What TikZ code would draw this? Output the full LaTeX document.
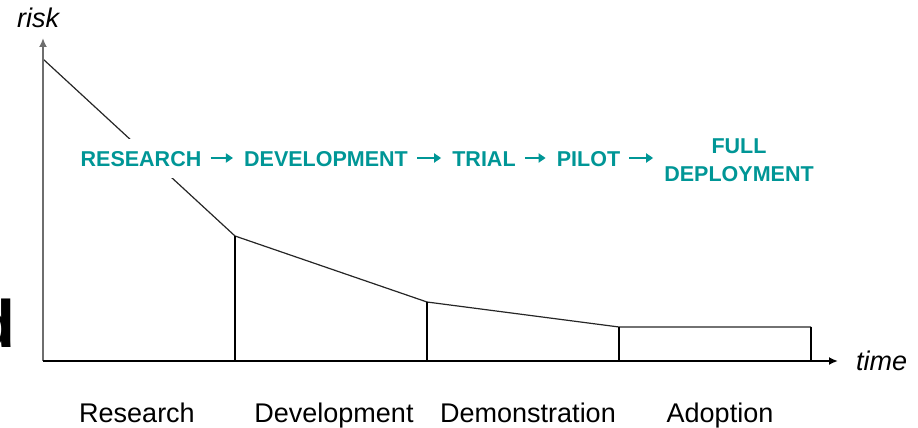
\documentclass[tikz,border=0pt]{standalone}
\usepackage{fontspec}
\setmainfont{Liberation Sans}
\usetikzlibrary{arrows.meta}
\definecolor{teal1}{RGB}{0,150,150}
\definecolor{axisgray}{RGB}{110,110,110}
\tikzset{
  stage/.style={font=\bfseries\fontsize{21.5}{24}\selectfont, text=teal1, inner sep=0pt, anchor=base},
  flow/.style={teal1, line width=2.8pt, -{Triangle[length=7pt,width=9pt]}, shorten <=9pt, shorten >=11pt},
  phase/.style={font=\fontsize{27}{30}\selectfont, inner sep=0pt, anchor=base},
  axislabel/.style={font=\itshape\fontsize{27}{30}\selectfont, inner sep=0pt, anchor=base west},
  curve/.style={draw=black!85, line width=1.2pt},
  axisarrow/.style={line width=1.8pt, -{Latex[length=9pt,width=8pt]}}
}
\begin{document}
\begin{tikzpicture}[x=1pt,y=-1pt]
\useasboundingbox (0,0) rectangle (918,428);
% partial large letter at left edge
\begin{scope}
\clip (0,0) rectangle (918,428);
\node[font=\bfseries\fontsize{67}{70}\selectfont, inner sep=0pt, anchor=base east] (dglyph) at (15.5,347) {d};
\end{scope}
% curve points
\coordinate (p0) at (43,59);
\coordinate (p1) at (235,236);
\coordinate (p2) at (427,302);
\coordinate (p3) at (619,327);
\coordinate (p4) at (811,327);
\coordinate (b1) at (235,361);
\coordinate (b2) at (427,361);
\coordinate (b3) at (619,361);
\coordinate (b4) at (811,361);
\coordinate (origin) at (43,361);
\coordinate (ytip) at (43,38);
\coordinate (xtip) at (838,361);
% curve
\draw[curve] (p0) -- (p1) -- (p2) -- (p3) -- (p4);
\draw[curve, draw=black] (p1) -- (b1) (p2) -- (b2) (p3) -- (b3) (p4) -- (b4);
% axes
\draw[axisarrow, axisgray] (origin) -- (ytip);
\draw[axisarrow, black] (origin) -- (xtip);
% stage labels
\node[stage, fill=white, inner ysep=11.5pt] (research) at (141,166) {RESEARCH};
\node[stage] (development) at (326,166) {DEVELOPMENT};
\node[stage] (trial) at (484,166) {TRIAL};
\node[stage] (pilot) at (588.5,166) {PILOT};
\node[stage, align=center] (full) at (739,181) {FULL\\[4pt]DEPLOYMENT};
\draw[flow] (research.east |- 0,158) -- (development.west |- 0,158);
\draw[flow] (development.east |- 0,158) -- (trial.west |- 0,158);
\draw[flow] (trial.east |- 0,158) -- (pilot.west |- 0,158);
\draw[flow] (pilot.east |- 0,158) -- (full.west |- 0,158);
% axis labels
\node[axislabel] (risklab) at (17,28) {risk};
\node[axislabel] (timelab) at (856,370) {time};
% phase labels
\node[phase] (ph1) at (137,422) {Research};
\node[phase] (ph2) at (334,422) {Development};
\node[phase] (ph3) at (528,422) {Demonstration};
\node[phase] (ph4) at (720,422) {Adoption};
\end{tikzpicture}
\end{document}
